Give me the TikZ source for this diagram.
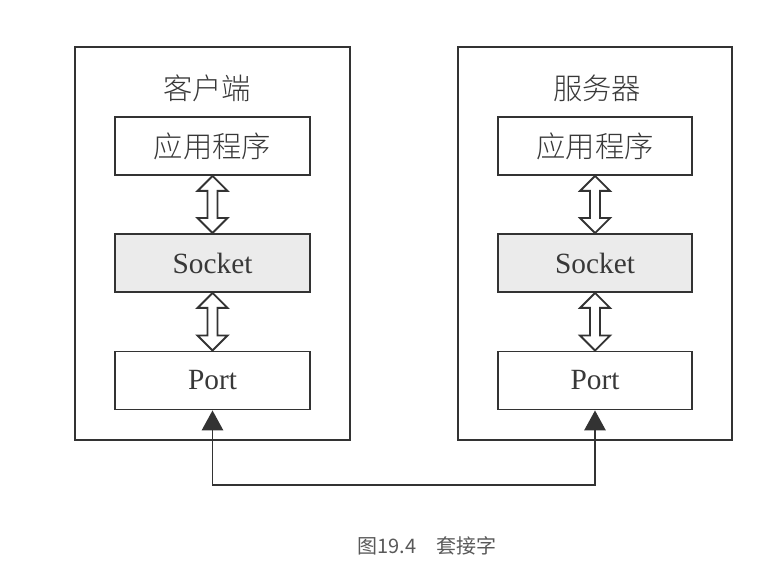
\documentclass[tikz,border=0pt]{standalone}
\usepackage{fontspec}
\setmainfont{Liberation Serif}
\newfontfamily\cjk{Noto Sans CJK SC}[UprightFont={* Light}]
\newfontfamily\cjkcap{Noto Sans CJK SC}
\usetikzlibrary{arrows.meta,calc}
\colorlet{lineGray}{black!80}
\colorlet{textGray}{black!78}
\colorlet{sockGray}{black!8}
\colorlet{capGray}{black!65}
\newcommand\dblArrow[2]{%
  \draw[arrowLine] (#1.south) -- ($(#1.south)+(15,15)$) -- ($(#1.south)+(5,15)$)
    -- ($(#2.north)+(5,-15)$) -- ($(#2.north)+(15,-15)$) -- (#2.north)
    -- ($(#2.north)+(-15,-15)$) -- ($(#2.north)+(-5,-15)$)
    -- ($(#1.south)+(-5,15)$) -- ($(#1.south)+(-15,15)$) -- cycle;}

\begin{document}
\begin{tikzpicture}[x=0.75pt, y=-0.75pt,
    outerBox/.style={draw=lineGray, line width=1.4pt, minimum width=206pt,
      minimum height=295pt, inner sep=0pt},
    layerBox/.style={draw=lineGray, line width=1.4pt, minimum width=146pt,
      minimum height=43.5pt, inner sep=0pt, text=textGray,
      font=\fontsize{22}{26}\selectfont},
    titleText/.style={text=textGray, font=\fontsize{22}{26}\selectfont},
    arrowLine/.style={draw=lineGray, line width=1.4pt, fill=white},
    linkLine/.style={draw=lineGray, line width=1.4pt,
      {Triangle[length=15pt,width=16pt]}-{Triangle[length=15pt,width=16pt]}}]
  \useasboundingbox (0,0) rectangle (778,580);

  % client side
  \node[outerBox] (client) at (212.5,243.5) {};
  \node[titleText] (cTitle) at (207,88) {\cjk 客户端};
  \node[layerBox] (cApp) at (212.5,146) {\cjk 应用程序};
  \node[layerBox, fill=sockGray] (cSock) at (212.5,263) {Socket};
  \node[layerBox] (cPort) at (212.5,380.5) {Port};
  \dblArrow{cApp}{cSock}
  \dblArrow{cSock}{cPort}

  % server side
  \node[outerBox] (server) at (595,243.5) {};
  \node[titleText] (sTitle) at (597,88) {\cjk 服务器};
  \node[layerBox] (sApp) at (595,146) {\cjk 应用程序};
  \node[layerBox, fill=sockGray] (sSock) at (595,263) {Socket};
  \node[layerBox] (sPort) at (595,380.5) {Port};
  \dblArrow{sApp}{sSock}
  \dblArrow{sSock}{sPort}

  \draw[linkLine] (cPort.south) -- ++(0,75) -| (sPort.south);

  \node[text=capGray, font=\cjkcap\fontsize{15}{18}\selectfont] (caption)
    at (427,546) {图19.4　套接字};
\end{tikzpicture}
\end{document}
